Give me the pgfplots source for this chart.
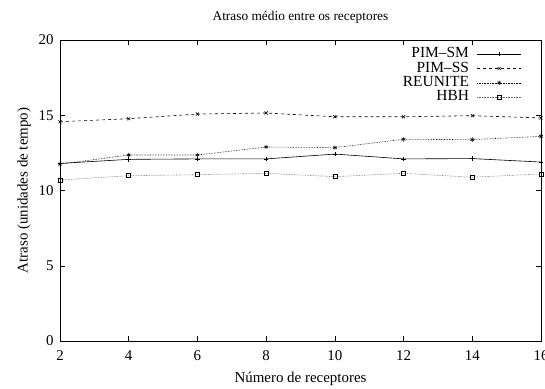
\documentclass[border=0pt]{standalone}
\usepackage{pgfplots}
\pgfplotsset{compat=1.18}
\usepackage{fontspec}
\setmainfont{Liberation Serif}
\begin{document}
\begin{tikzpicture}
\begin{axis}[
  scale only axis,
  width=481bp, height=301bp,
  xmin=2, xmax=16, ymin=0, ymax=20,
  xtick={2,4,...,16}, ytick={0,5,10,15,20},
  tick align=inside,
  tick style={black, line width=0.5pt},
  major tick length=5bp,
  axis line style={line width=0.8pt},
  /pgf/number format/assume math mode=true,
  ticklabel style={font=\fontsize{15}{16}\selectfont},
  xticklabel style={yshift=-6bp},
  yticklabel style={xshift=-3bp},
  title={Atraso médio entre os receptores},
  title style={font=\fontsize{13.4}{14}\selectfont, yshift=7bp},
  xlabel={Número de receptores},
  ylabel={Atraso (unidades de tempo)},
  label style={font=\fontsize{15}{16}\selectfont},
  xlabel style={yshift=-5bp},
  ylabel style={yshift=1bp},
  legend style={draw=none, fill=none, at={(0.96,0.975)}, anchor=north east,
    font=\fontsize{15.5}{16}\selectfont, row sep=1.3bp, inner sep=0pt,
    nodes={inner sep=0pt, text height=10bp, text depth=3bp},
    /tikz/every odd column/.append style={column sep=8bp}},
  legend cell align=right,
  legend plot pos=right,
  legend image code/.code={\draw[mark repeat=2,mark phase=2] plot coordinates {(0bp,0bp) (22bp,0bp) (44bp,0bp)};},
  every axis plot/.append style={line width=0.6pt},
]
\addplot[black, solid, mark=+, mark size=2.2pt, mark options={solid}] coordinates {
(2,11.8) (4,12.07) (6,12.1) (8,12.1) (10,12.42) (12,12.1) (14,12.12) (16,11.89)};
\addlegendentry{PIM--SM}
\addplot[black, dashed, mark=x, mark size=2.2pt, mark options={solid}] coordinates {
(2,14.57) (4,14.77) (6,15.08) (8,15.15) (10,14.9) (12,14.9) (14,14.97) (16,14.82)};
\addlegendentry{PIM--SS}
\addplot[black, densely dotted, mark=asterisk, mark size=2.2pt, mark options={solid}] coordinates {
(2,11.75) (4,12.36) (6,12.36) (8,12.89) (10,12.85) (12,13.4) (14,13.38) (16,13.6)};
\addlegendentry{REUNITE}
\addplot[black!60, densely dotted, mark=square, mark size=2pt, mark options={solid,black}] coordinates {
(2,10.7) (4,10.98) (6,11.05) (8,11.14) (10,10.92) (12,11.14) (14,10.88) (16,11.1)};
\addlegendentry{HBH}
\coordinate (bl) at (rel axis cs:0,0);
\coordinate (tr) at (rel axis cs:1,1);
\end{axis}
\pgfresetboundingbox
\path ([xshift=-60bp,yshift=-48bp]bl) rectangle ([xshift=4bp,yshift=40bp]tr);
\end{tikzpicture}
\end{document}
